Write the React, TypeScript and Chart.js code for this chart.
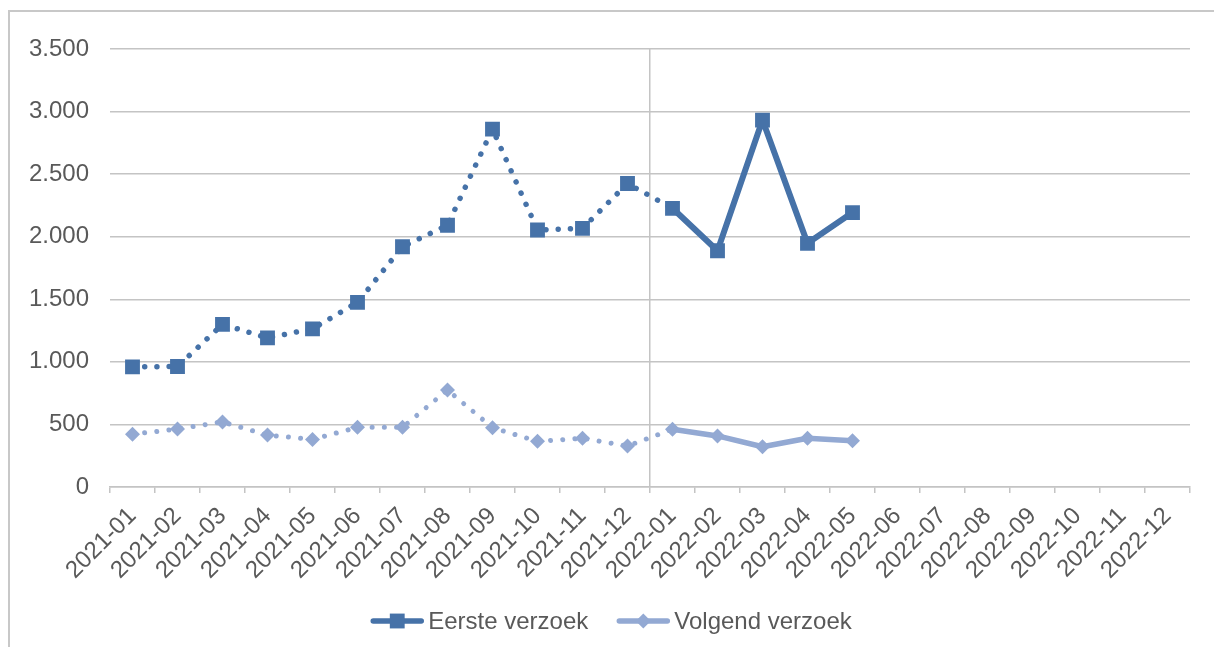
import React, { useEffect, useRef } from 'react';
import { Chart, registerables } from 'chart.js';

Chart.register(...registerables);

const months = [
  '2021-01', '2021-02', '2021-03', '2021-04', '2021-05', '2021-06',
  '2021-07', '2021-08', '2021-09', '2021-10', '2021-11', '2021-12',
  '2022-01', '2022-02', '2022-03', '2022-04', '2022-05', '2022-06',
  '2022-07', '2022-08', '2022-09', '2022-10', '2022-11', '2022-12',
];

const eersteVerzoek: (number | null)[] = [
  960, 963, 1300, 1192, 1264, 1475, 1920, 2092, 2860, 2054, 2067, 2425,
  2227, 1888, 2932, 1947, 2193, null, null, null, null, null, null, null,
];

const volgendVerzoek: (number | null)[] = [
  422, 463, 520, 415, 380, 477, 477, 775, 474, 365, 389, 328,
  461, 408, 322, 389, 370, null, null, null, null, null, null, null,
];

const yTicks = [0, 500, 1000, 1500, 2000, 2500, 3000, 3500];

const seriesNames = ['Eerste verzoek', 'Volgend verzoek'];

const DARK = '#4672A8';
const LIGHT = '#93A9D3';
const TEXT = '#595959';
const GRID = '#C4C4C4';
const FONT = '"Liberation Sans", Arial, sans-serif';
const FONT_SIZE = 24;
const SPLIT_INDEX = 12; // from 2022-01 onwards: solid line

const formatNL = (v: number) => String(v).replace(/\B(?=(\d{3})+(?!\d))/g, '.');

const lineLegend = {
  id: 'lineLegend',
  afterDraw(chart: any) {
    const ctx = chart.ctx as CanvasRenderingContext2D;
    ctx.save();
    ctx.font = `${FONT_SIZE}px ${FONT}`;
    const sampleW = 54;
    const gapText = 4;
    const gapItems = 28;
    const items = chart.data.datasets.map((ds: any) => ({
      label: ds.label,
      color: ds.borderColor,
      style: ds.pointStyle,
      radius: ds.pointRadius,
      w: ctx.measureText(ds.label).width,
    }));
    const total =
      items.reduce((s: number, it: any) => s + sampleW + gapText + it.w, 0) +
      gapItems * (items.length - 1);
    let x = chart.width / 2 + 4 - total / 2;
    const y = 621;
    for (const it of items) {
      ctx.strokeStyle = it.color;
      ctx.fillStyle = it.color;
      ctx.lineWidth = 5.5;
      ctx.lineCap = 'round';
      ctx.setLineDash([]);
      ctx.beginPath();
      ctx.moveTo(x + 3, y);
      ctx.lineTo(x + sampleW - 3, y);
      ctx.stroke();
      const cx = x + sampleW / 2;
      ctx.beginPath();
      if (it.style === 'rect') {
        const s = Math.SQRT1_2 * it.radius;
        ctx.rect(cx - s, y - s, 2 * s, 2 * s);
      } else {
        const r = it.radius;
        ctx.moveTo(cx - r, y);
        ctx.lineTo(cx, y - r);
        ctx.lineTo(cx + r, y);
        ctx.lineTo(cx, y + r);
        ctx.closePath();
      }
      ctx.fill();
      ctx.fillStyle = TEXT;
      ctx.textAlign = 'left';
      ctx.textBaseline = 'middle';
      ctx.fillText(it.label, x + sampleW + gapText, y + 1);
      x += sampleW + gapText + it.w + gapItems;
    }
    ctx.restore();
  },
};

export default function App() {
  const canvasRef = useRef<HTMLCanvasElement | null>(null);

  useEffect(() => {
    if (!canvasRef.current) return;
    const chart = new Chart(canvasRef.current, {
      type: 'line',
      data: {
        labels: months,
        datasets: [
          {
            label: seriesNames[0],
            data: eersteVerzoek,
            borderColor: DARK,
            backgroundColor: DARK,
            borderWidth: 6,
            borderCapStyle: 'round',
            borderJoinStyle: 'round',
            pointStyle: 'rect',
            pointRadius: 10.5,
            pointBorderWidth: 0,
            pointBackgroundColor: DARK,
            segment: {
              borderDash: (c: any) => (c.p0DataIndex >= SPLIT_INDEX ? [] : [0.01, 12.2]),
              borderWidth: (c: any) => (c.p0DataIndex >= SPLIT_INDEX ? 6 : 5.5),
            },
          } as any,
          {
            label: seriesNames[1],
            data: volgendVerzoek,
            borderColor: LIGHT,
            backgroundColor: LIGHT,
            borderWidth: 5.5,
            borderCapStyle: 'round',
            borderJoinStyle: 'round',
            pointStyle: 'rectRot',
            pointRadius: 7.5,
            pointBorderWidth: 0,
            pointBackgroundColor: LIGHT,
            segment: {
              borderDash: (c: any) => (c.p0DataIndex >= SPLIT_INDEX ? [] : [0.01, 12.2]),
              borderWidth: (c: any) => (c.p0DataIndex >= SPLIT_INDEX ? 5.5 : 5),
            },
          } as any,
        ],
      },
      options: {
        responsive: false,
        animation: false,
        layout: { padding: { left: 0, right: 24, top: 49, bottom: 0 } },
        plugins: {
          legend: { display: false },
          tooltip: { enabled: false },
        },
        scales: {
          x: {
            type: 'category',
            offset: true,
            grid: {
              offset: true,
              color: (c: any) => (c.index === SPLIT_INDEX ? GRID : 'rgba(0,0,0,0)'),
              lineWidth: 1.5,
              drawTicks: true,
              tickLength: 6,
              tickColor: GRID,
              tickWidth: 1.5,
            },
            border: { display: true, color: GRID, width: 1.5 },
            ticks: {
              autoSkip: false,
              maxRotation: 45,
              minRotation: 45,
              padding: 9,
              color: TEXT,
              font: { family: FONT, size: FONT_SIZE },
            },
            afterFit: (scale: any) => {
              scale.height = 160;
            },
          },
          y: {
            min: 0,
            max: 3500,
            afterBuildTicks: (scale: any) => {
              scale.ticks = yTicks.map((v) => ({ value: v }));
            },
            grid: {
              color: GRID,
              lineWidth: 1.5,
              drawTicks: false,
            },
            border: { display: false },
            ticks: {
              padding: 21,
              color: TEXT,
              font: { family: FONT, size: FONT_SIZE },
              callback: (v: any) => formatNL(Number(v)),
            },
            afterFit: (scale: any) => {
              scale.width = 110;
            },
          },
        },
      } as any,
      plugins: [lineLegend],
    });
    return () => chart.destroy();
  }, []);

  return (
    <div
      style={{
        position: 'fixed',
        left: 0,
        top: 0,
        width: 1214,
        height: 647,
        background: '#ffffff',
        overflow: 'hidden',
      }}
    >
      <div
        style={{
          position: 'absolute',
          left: 8,
          top: 10,
          width: 1240,
          height: 700,
          borderTop: '2px solid #C8C8C8',
          borderLeft: '2px solid #C8C8C8',
          boxSizing: 'border-box',
        }}
      />
      <canvas
        ref={canvasRef}
        width={1214}
        height={647}
        style={{ position: 'absolute', left: 0, top: 0, width: 1214, height: 647 }}
      />
    </div>
  );
}
